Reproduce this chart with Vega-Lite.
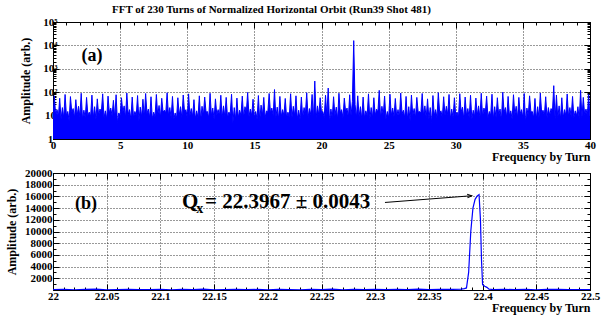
{
"$schema": "https://vega.github.io/schema/vega-lite/v6.json",
"padding": {"left": 5, "top": 3, "right": 12, "bottom": 2},
"spacing": 3,
"datasets": {
"top": [
{"f":0,"a":8},{"f":0.1,"a":70},{"f":0.2,"a":10},{"f":0.3,"a":18},{"f":0.4,"a":9},{"f":0.5,"a":55},{"f":0.6,"a":7},{"f":0.7,"a":22},{"f":0.8,"a":8},{"f":0.9,"a":80},
{"f":1,"a":10},{"f":1.1,"a":15},{"f":1.2,"a":6},{"f":1.3,"a":65},{"f":1.4,"a":14},{"f":1.5,"a":20},{"f":1.6,"a":8},{"f":1.7,"a":48},{"f":1.8,"a":10},{"f":1.9,"a":25},
{"f":2,"a":9},{"f":2.1,"a":90},{"f":2.2,"a":7},{"f":2.3,"a":17},{"f":2.4,"a":8},{"f":2.5,"a":60},{"f":2.6,"a":10},{"f":2.7,"a":14},{"f":2.8,"a":9},{"f":2.9,"a":75},
{"f":3,"a":8},{"f":3.1,"a":24},{"f":3.2,"a":7},{"f":3.3,"a":52},{"f":3.4,"a":10},{"f":3.5,"a":19},{"f":3.6,"a":14},{"f":3.7,"a":85},{"f":3.8,"a":8},{"f":3.9,"a":16},
{"f":4,"a":7},{"f":4.1,"a":68},{"f":4.2,"a":13},{"f":4.3,"a":21},{"f":4.4,"a":10},{"f":4.5,"a":45},{"f":4.6,"a":8},{"f":4.7,"a":78},{"f":4.8,"a":5},{"f":4.9,"a":13},
{"f":5,"a":10},{"f":5.1,"a":58},{"f":5.2,"a":14},{"f":5.3,"a":26},{"f":5.4,"a":8},{"f":5.5,"a":92},{"f":5.6,"a":11},{"f":5.7,"a":18},{"f":5.8,"a":7},{"f":5.9,"a":62},
{"f":6,"a":8},{"f":6.1,"a":15},{"f":6.2,"a":10},{"f":6.3,"a":72},{"f":6.4,"a":6},{"f":6.5,"a":23},{"f":6.6,"a":9},{"f":6.7,"a":50},{"f":6.8,"a":8},{"f":6.9,"a":88},
{"f":7,"a":12},{"f":7.1,"a":19},{"f":7.2,"a":8},{"f":7.3,"a":64},{"f":7.4,"a":7},{"f":7.5,"a":14},{"f":7.6,"a":9},{"f":7.7,"a":80},{"f":7.8,"a":10},{"f":7.9,"a":27},
{"f":8,"a":8},{"f":8.1,"a":55},{"f":8.2,"a":14},{"f":8.3,"a":17},{"f":8.4,"a":13},{"f":8.5,"a":95},{"f":8.6,"a":10},{"f":8.7,"a":22},{"f":8.8,"a":8},{"f":8.9,"a":66},
{"f":9,"a":7},{"f":9.1,"a":13},{"f":9.2,"a":7},{"f":9.3,"a":58},{"f":9.4,"a":10},{"f":9.5,"a":24},{"f":9.6,"a":8},{"f":9.7,"a":76},{"f":9.8,"a":14},{"f":9.9,"a":18},
{"f":10,"a":8},{"f":10.1,"a":85},{"f":10.2,"a":10},{"f":10.3,"a":20},{"f":10.4,"a":9},{"f":10.5,"a":48},{"f":10.6,"a":7},{"f":10.7,"a":16},{"f":10.8,"a":8},{"f":10.9,"a":70},
{"f":11,"a":6},{"f":11.1,"a":25},{"f":11.2,"a":10},{"f":11.3,"a":62},{"f":11.4,"a":14},{"f":11.5,"a":15},{"f":11.6,"a":8},{"f":11.7,"a":90},{"f":11.8,"a":10},{"f":11.9,"a":21},
{"f":12,"a":7},{"f":12.1,"a":52},{"f":12.2,"a":11},{"f":12.3,"a":18},{"f":12.4,"a":10},{"f":12.5,"a":74},{"f":12.6,"a":8},{"f":12.7,"a":26},{"f":12.8,"a":9},{"f":12.9,"a":60},
{"f":13,"a":8},{"f":13.1,"a":14},{"f":13.2,"a":12},{"f":13.3,"a":82},{"f":13.4,"a":5},{"f":13.5,"a":22},{"f":13.6,"a":7},{"f":13.7,"a":56},{"f":13.8,"a":8},{"f":13.9,"a":17},
{"f":14,"a":10},{"f":14.1,"a":68},{"f":14.2,"a":8},{"f":14.3,"a":24},{"f":14.4,"a":14},{"f":14.5,"a":98},{"f":14.6,"a":9},{"f":14.7,"a":19},{"f":14.8,"a":10},{"f":14.9,"a":50},
{"f":15,"a":8},{"f":15.1,"a":15},{"f":15.2,"a":7},{"f":15.3,"a":72},{"f":15.4,"a":6},{"f":15.5,"a":28},{"f":15.6,"a":10},{"f":15.7,"a":60},{"f":15.8,"a":8},{"f":15.9,"a":16},
{"f":16,"a":14},{"f":16.1,"a":88},{"f":16.2,"a":13},{"f":16.3,"a":21},{"f":16.4,"a":10},{"f":16.5,"a":130},{"f":16.6,"a":8},{"f":16.7,"a":23},{"f":16.8,"a":7},{"f":16.9,"a":66},
{"f":17,"a":9},{"f":17.1,"a":18},{"f":17.2,"a":10},{"f":17.3,"a":54},{"f":17.4,"a":8},{"f":17.5,"a":14},{"f":17.6,"a":9},{"f":17.7,"a":86},{"f":17.8,"a":8},{"f":17.9,"a":25},
{"f":18,"a":10},{"f":18.1,"a":70},{"f":18.2,"a":7},{"f":18.3,"a":17},{"f":18.4,"a":7},{"f":18.5,"a":62},{"f":18.6,"a":8},{"f":18.7,"a":22},{"f":18.8,"a":12},{"f":18.9,"a":95},
{"f":19,"a":8},{"f":19.1,"a":20},{"f":19.2,"a":11},{"f":19.3,"a":80},{"f":19.4,"a":7},{"f":19.5,"a":300},{"f":19.6,"a":8},{"f":19.7,"a":26},{"f":19.8,"a":10},{"f":19.9,"a":58},
{"f":20,"a":14},{"f":20.1,"a":15},{"f":20.2,"a":8},{"f":20.3,"a":74},{"f":20.4,"a":10},{"f":20.5,"a":150},{"f":20.6,"a":5},{"f":20.7,"a":19},{"f":20.8,"a":8},{"f":20.9,"a":64},
{"f":21,"a":10},{"f":21.1,"a":23},{"f":21.2,"a":7},{"f":21.3,"a":90},{"f":21.4,"a":13},{"f":21.5,"a":18},{"f":21.6,"a":8},{"f":21.7,"a":56},{"f":21.8,"a":14},{"f":21.9,"a":21},
{"f":22,"a":8},{"f":22.1,"a":78},{"f":22.2,"a":10},{"f":22.3,"a":40},{"f":22.4,"a":16000},{"f":22.5,"a":30},{"f":22.6,"a":8},{"f":22.7,"a":70},{"f":22.8,"a":9},{"f":22.9,"a":24},
{"f":23,"a":7},{"f":23.1,"a":62},{"f":23.2,"a":8},{"f":23.3,"a":16},{"f":23.4,"a":10},{"f":23.5,"a":85},{"f":23.6,"a":7},{"f":23.7,"a":22},{"f":23.8,"a":8},{"f":23.9,"a":58},
{"f":24,"a":10},{"f":24.1,"a":19},{"f":24.2,"a":14},{"f":24.3,"a":120},{"f":24.4,"a":8},{"f":24.5,"a":25},{"f":24.6,"a":11},{"f":24.7,"a":68},{"f":24.8,"a":7},{"f":24.9,"a":15},
{"f":25,"a":8},{"f":25.1,"a":82},{"f":25.2,"a":10},{"f":25.3,"a":21},{"f":25.4,"a":9},{"f":25.5,"a":54},{"f":25.6,"a":9},{"f":25.7,"a":18},{"f":25.8,"a":8},{"f":25.9,"a":92},
{"f":26,"a":12},{"f":26.1,"a":17},{"f":26.2,"a":8},{"f":26.3,"a":66},{"f":26.4,"a":7},{"f":26.5,"a":24},{"f":26.6,"a":6},{"f":26.7,"a":76},{"f":26.8,"a":10},{"f":26.9,"a":20},
{"f":27,"a":8},{"f":27.1,"a":60},{"f":27.2,"a":14},{"f":27.3,"a":15},{"f":27.4,"a":13},{"f":27.5,"a":88},{"f":27.6,"a":10},{"f":27.7,"a":26},{"f":27.8,"a":8},{"f":27.9,"a":52},
{"f":28,"a":7},{"f":28.1,"a":22},{"f":28.2,"a":5},{"f":28.3,"a":72},{"f":28.4,"a":10},{"f":28.5,"a":18},{"f":28.6,"a":8},{"f":28.7,"a":95},{"f":28.8,"a":14},{"f":28.9,"a":16},
{"f":29,"a":8},{"f":29.1,"a":64},{"f":29.2,"a":10},{"f":29.3,"a":25},{"f":29.4,"a":11},{"f":29.5,"a":80},{"f":29.6,"a":7},{"f":29.7,"a":19},{"f":29.8,"a":8},{"f":29.9,"a":58},
{"f":30,"a":10},{"f":30.1,"a":14},{"f":30.2,"a":8},{"f":30.3,"a":86},{"f":30.4,"a":14},{"f":30.5,"a":23},{"f":30.6,"a":7},{"f":30.7,"a":62},{"f":30.8,"a":10},{"f":30.9,"a":20},
{"f":31,"a":8},{"f":31.1,"a":74},{"f":31.2,"a":7},{"f":31.3,"a":17},{"f":31.4,"a":9},{"f":31.5,"a":56},{"f":31.6,"a":10},{"f":31.7,"a":26},{"f":31.8,"a":8},{"f":31.9,"a":90},
{"f":32,"a":9},{"f":32.1,"a":21},{"f":32.2,"a":13},{"f":32.3,"a":68},{"f":32.4,"a":8},{"f":32.5,"a":15},{"f":32.6,"a":10},{"f":32.7,"a":82},{"f":32.8,"a":7},{"f":32.9,"a":24},
{"f":33,"a":8},{"f":33.1,"a":58},{"f":33.2,"a":10},{"f":33.3,"a":19},{"f":33.4,"a":6},{"f":33.5,"a":100},{"f":33.6,"a":14},{"f":33.7,"a":22},{"f":33.8,"a":8},{"f":33.9,"a":66},
{"f":34,"a":10},{"f":34.1,"a":16},{"f":34.2,"a":7},{"f":34.3,"a":78},{"f":34.4,"a":11},{"f":34.5,"a":25},{"f":34.6,"a":8},{"f":34.7,"a":60},{"f":34.8,"a":12},{"f":34.9,"a":18},
{"f":35,"a":8},{"f":35.1,"a":88},{"f":35.2,"a":5},{"f":35.3,"a":21},{"f":35.4,"a":10},{"f":35.5,"a":70},{"f":35.6,"a":14},{"f":35.7,"a":15},{"f":35.8,"a":8},{"f":35.9,"a":54},
{"f":36,"a":7},{"f":36.1,"a":24},{"f":36.2,"a":8},{"f":36.3,"a":92},{"f":36.4,"a":13},{"f":36.5,"a":17},{"f":36.6,"a":10},{"f":36.7,"a":64},{"f":36.8,"a":8},{"f":36.9,"a":22},
{"f":37,"a":10},{"f":37.1,"a":20},{"f":37.2,"a":14},{"f":37.3,"a":190},{"f":37.4,"a":7},{"f":37.5,"a":76},{"f":37.6,"a":8},{"f":37.7,"a":26},{"f":37.8,"a":7},{"f":37.9,"a":58},
{"f":38,"a":8},{"f":38.1,"a":18},{"f":38.2,"a":10},{"f":38.3,"a":84},{"f":38.4,"a":9},{"f":38.5,"a":22},{"f":38.6,"a":9},{"f":38.7,"a":66},{"f":38.8,"a":8},{"f":38.9,"a":16},
{"f":39,"a":10},{"f":39.1,"a":24},{"f":39.2,"a":7},{"f":39.3,"a":120},{"f":39.4,"a":8},{"f":39.5,"a":60},{"f":39.6,"a":11},{"f":39.7,"a":19},{"f":39.8,"a":10},{"f":39.9,"a":80},
{"f":40,"a":8}
],
"bot": [
{"f":22,"a":60},{"f":22.01,"a":120},{"f":22.02,"a":40},{"f":22.03,"a":90},{"f":22.04,"a":150},{"f":22.05,"a":30},{"f":22.06,"a":80},{"f":22.07,"a":110},{"f":22.08,"a":50},{"f":22.09,"a":70},
{"f":22.1,"a":130},{"f":22.11,"a":40},{"f":22.12,"a":90},{"f":22.13,"a":60},{"f":22.14,"a":140},{"f":22.15,"a":35},{"f":22.16,"a":80},{"f":22.17,"a":120},{"f":22.18,"a":55},{"f":22.19,"a":95},
{"f":22.2,"a":45},{"f":22.21,"a":130},{"f":22.22,"a":70},{"f":22.23,"a":30},{"f":22.24,"a":110},{"f":22.25,"a":60},{"f":22.26,"a":150},{"f":22.27,"a":40},{"f":22.28,"a":90},{"f":22.29,"a":70},
{"f":22.3,"a":120},{"f":22.31,"a":50},{"f":22.32,"a":100},{"f":22.33,"a":60},{"f":22.34,"a":140},{"f":22.35,"a":80},{"f":22.36,"a":110},{"f":22.37,"a":90},{"f":22.38,"a":160},{"f":22.383,"a":250},
{"f":22.385,"a":350},{"f":22.387,"a":3000},{"f":22.389,"a":10000},{"f":22.391,"a":14000},{"f":22.393,"a":15500},{"f":22.395,"a":16100},{"f":22.3967,"a":16300},{"f":22.398,"a":12000},{"f":22.399,"a":5000},{"f":22.4,"a":900},
{"f":22.402,"a":650},{"f":22.404,"a":450},{"f":22.406,"a":150},{"f":22.41,"a":80},{"f":22.42,"a":120},{"f":22.43,"a":60},{"f":22.44,"a":100},{"f":22.45,"a":40},{"f":22.46,"a":90},{"f":22.47,"a":130},
{"f":22.48,"a":50},{"f":22.49,"a":80},{"f":22.5,"a":60}
]
},
"config": {
"font": "Liberation Serif",
"view": {"stroke": "black", "strokeWidth": 1},
"axis": {"labelFont": "Liberation Serif", "labelFontWeight": "bold", "labelFontSize": 11, "labelColor": "black", "titleFont": "Liberation Serif", "titleFontWeight": "bold", "titleFontSize": 12, "titleColor": "black", "domainColor": "black", "tickColor": "black", "gridColor": "#333", "gridDash": [1, 2], "labelFlush": false, "labelOverlap": false, "labelBound": false}
},
"vconcat": [
{
"width": 537, "height": 117,
"title": {"text": "FFT of 230 Turns of Normalized Horizontal Orbit (Run39 Shot 481)", "font": "Liberation Serif", "fontSize": 11, "fontWeight": "bold", "color": "black", "anchor": "start", "frame": "group", "dx": 59, "offset": 1},
"resolve": {"axis": {"x": "independent", "y": "independent"}},
"layer": [
{
"data": {"name": "top"},
"mark": {"type": "area", "color": "#0000ff", "clip": true, "opacity": 1},
"encoding": {
"x": {"field": "f", "type": "quantitative", "scale": {"domain": [0, 40], "nice": false, "zero": false},
"axis": {"orient": "bottom", "values": [0,1,2,3,4,5,6,7,8,9,10,11,12,13,14,15,16,17,18,19,20,21,22,23,24,25,26,27,28,29,30,31,32,33,34,35,36,37,38,39,40],
"labelExpr": "datum.value % 5 == 0 ? datum.label : ''",
"tickSize": {"condition": {"test": "datum.value % 5 == 0", "value": -6}, "value": -3},
"gridOpacity": {"condition": {"test": "datum.value % 5 == 0 && datum.value > 0 && datum.value < 40", "value": 1}, "value": 0},
"labelPadding": 6, "title": "Frequency by Turn", "titleAnchor": "end", "titlePadding": -2}},
"y": {"field": "a", "type": "quantitative", "scale": {"type": "log", "domain": [1, 100000], "nice": false},
"axis": {"orient": "left", "values": [1,2,3,4,5,6,7,8,9,10,20,30,40,50,60,70,80,90,100,200,300,400,500,600,700,800,900,1000,2000,3000,4000,5000,6000,7000,8000,9000,10000,20000,30000,40000,50000,60000,70000,80000,90000,100000],
"labelExpr": "datum.value == 1 ? '1' : datum.value == 10 ? '10' : datum.value == 100 ? '10²' : datum.value == 1000 ? '10³' : datum.value == 10000 ? '10⁴' : datum.value == 100000 ? '10⁵' : ''",
"tickSize": {"condition": {"test": "indexof([1,10,100,1000,10000,100000], datum.value) >= 0", "value": -6}, "value": -3},
"gridOpacity": {"condition": {"test": "indexof([10,100,1000,10000], datum.value) >= 0", "value": 1}, "value": 0},
"labelAlign": "center", "labelPadding": 9, "title": "Amplitude (arb.)", "titlePadding": 10}},
"y2": {"datum": 1}
}
},
{
"data": {"name": "top"},
"mark": {"type": "line", "color": "#0000ff", "strokeWidth": 1, "clip": true},
"encoding": {
"x": {"field": "f", "type": "quantitative", "axis": null},
"y": {"field": "a", "type": "quantitative", "axis": null}
}
},
{
"data": {"values": [{"f": 2.9, "a": 3630, "t": "(a)"}]},
"mark": {"type": "text", "font": "Liberation Serif", "fontSize": 18, "fontWeight": "bold", "color": "black", "baseline": "middle", "align": "center"},
"encoding": {
"x": {"field": "f", "type": "quantitative",
"axis": {"orient": "top", "values": [0,1,2,3,4,5,6,7,8,9,10,11,12,13,14,15,16,17,18,19,20,21,22,23,24,25,26,27,28,29,30,31,32,33,34,35,36,37,38,39,40], "labels": false, "title": null, "grid": false,
"tickSize": {"condition": {"test": "datum.value % 5 == 0", "value": -6}, "value": -3}}},
"y": {"field": "a", "type": "quantitative",
"axis": {"orient": "right", "values": [1,2,3,4,5,6,7,8,9,10,20,30,40,50,60,70,80,90,100,200,300,400,500,600,700,800,900,1000,2000,3000,4000,5000,6000,7000,8000,9000,10000,20000,30000,40000,50000,60000,70000,80000,90000,100000], "labels": false, "title": null, "grid": false,
"tickSize": {"condition": {"test": "indexof([1,10,100,1000,10000,100000], datum.value) >= 0", "value": -6}, "value": -3}}},
"text": {"field": "t"}
}
}
]
},
{
"width": 537, "height": 117,
"resolve": {"axis": {"x": "independent", "y": "independent"}},
"layer": [
{
"data": {"name": "bot"},
"mark": {"type": "line", "color": "#0000ff", "strokeWidth": 1.2, "clip": true},
"encoding": {
"x": {"field": "f", "type": "quantitative", "scale": {"domain": [22, 22.5], "nice": false, "zero": false},
"axis": {"orient": "bottom", "values": [22,22.01,22.02,22.03,22.04,22.05,22.06,22.07,22.08,22.09,22.1,22.11,22.12,22.13,22.14,22.15,22.16,22.17,22.18,22.19,22.2,22.21,22.22,22.23,22.24,22.25,22.26,22.27,22.28,22.29,22.3,22.31,22.32,22.33,22.34,22.35,22.36,22.37,22.38,22.39,22.4,22.41,22.42,22.43,22.44,22.45,22.46,22.47,22.48,22.49,22.5],
"labelExpr": "abs(datum.value * 20 - round(datum.value * 20)) < 0.001 ? format(datum.value, '~g') : ''",
"tickSize": {"condition": {"test": "abs(datum.value * 20 - round(datum.value * 20)) < 0.001", "value": -6}, "value": -3},
"gridOpacity": {"condition": {"test": "abs(datum.value * 20 - round(datum.value * 20)) < 0.001 && datum.value > 22.01 && datum.value < 22.49", "value": 1}, "value": 0},
"labelPadding": 6, "title": "Frequency by Turn", "titleAnchor": "end", "titlePadding": -2}},
"y": {"field": "a", "type": "quantitative", "scale": {"domain": [0, 20000], "nice": false},
"axis": {"orient": "left", "values": [0,1000,2000,3000,4000,5000,6000,7000,8000,9000,10000,11000,12000,13000,14000,15000,16000,17000,18000,19000,20000],
"labelExpr": "datum.value % 2000 == 0 && datum.value > 0 ? format(datum.value, 'd') : ''",
"tickSize": {"condition": {"test": "datum.value % 2000 == 0", "value": -6}, "value": -3},
"gridOpacity": {"condition": {"test": "datum.value % 2000 == 0 && datum.value > 0 && datum.value < 20000", "value": 1}, "value": 0},
"labelPadding": 7, "title": "Amplitude (arb.)", "titlePadding": 6}}
}
},
{
"data": {"values": [{"f": 22.0307, "a": 14740, "t": "(b)"}]},
"mark": {"type": "text", "font": "Liberation Serif", "fontSize": 18, "fontWeight": "bold", "color": "black", "baseline": "middle", "align": "center"},
"encoding": {
"x": {"field": "f", "type": "quantitative",
"axis": {"orient": "top", "values": [22,22.01,22.02,22.03,22.04,22.05,22.06,22.07,22.08,22.09,22.1,22.11,22.12,22.13,22.14,22.15,22.16,22.17,22.18,22.19,22.2,22.21,22.22,22.23,22.24,22.25,22.26,22.27,22.28,22.29,22.3,22.31,22.32,22.33,22.34,22.35,22.36,22.37,22.38,22.39,22.4,22.41,22.42,22.43,22.44,22.45,22.46,22.47,22.48,22.49,22.5], "labels": false, "title": null, "grid": false,
"tickSize": {"condition": {"test": "abs(datum.value * 20 - round(datum.value * 20)) < 0.001", "value": -6}, "value": -3}}},
"y": {"field": "a", "type": "quantitative",
"axis": {"orient": "right", "values": [0,1000,2000,3000,4000,5000,6000,7000,8000,9000,10000,11000,12000,13000,14000,15000,16000,17000,18000,19000,20000], "labels": false, "title": null, "grid": false,
"tickSize": {"condition": {"test": "datum.value % 2000 == 0", "value": -6}, "value": -3}}},
"text": {"field": "t"}
}
},
{
"data": {"values": [{"f": 22.1201, "a": 14003, "t": "Q"}]},
"mark": {"type": "text", "font": "Liberation Serif", "fontSize": 21, "fontWeight": "bold", "color": "black", "baseline": "alphabetic", "align": "left"},
"encoding": {"x": {"field": "f", "type": "quantitative", "axis": null}, "y": {"field": "a", "type": "quantitative", "axis": null}, "text": {"field": "t"}}
},
{
"data": {"values": [{"f": 22.1334, "a": 13146, "t": "x"}]},
"mark": {"type": "text", "font": "Liberation Serif", "fontSize": 14, "fontWeight": "bold", "color": "black", "baseline": "alphabetic", "align": "left"},
"encoding": {"x": {"field": "f", "type": "quantitative", "axis": null}, "y": {"field": "a", "type": "quantitative", "axis": null}, "text": {"field": "t"}}
},
{
"data": {"values": [{"f": 22.1415, "a": 14003, "t": "= 22.3967 ± 0.0043"}]},
"mark": {"type": "text", "font": "Liberation Serif", "fontSize": 21, "fontWeight": "bold", "color": "black", "baseline": "alphabetic", "align": "left"},
"encoding": {"x": {"field": "f", "type": "quantitative", "axis": null}, "y": {"field": "a", "type": "quantitative", "axis": null}, "text": {"field": "t"}}
},
{
"data": {"values": [{"f": 22.3091, "a": 14963, "f2": 22.3899, "a2": 16112}]},
"mark": {"type": "rule", "color": "black", "strokeWidth": 1},
"encoding": {"x": {"field": "f", "type": "quantitative", "axis": null}, "y": {"field": "a", "type": "quantitative", "axis": null}, "x2": {"field": "f2"}, "y2": {"field": "a2"}}
},
{
"data": {"values": [{"f": 22.3899, "a": 16112}]},
"mark": {"type": "point", "shape": "M-1,-0.4L0,0L-1,0.4", "filled": false, "stroke": "black", "strokeWidth": 1, "size": 80, "angle": -4.4, "opacity": 1},
"encoding": {"x": {"field": "f", "type": "quantitative", "axis": null}, "y": {"field": "a", "type": "quantitative", "axis": null}}
}
]
}
]
}
